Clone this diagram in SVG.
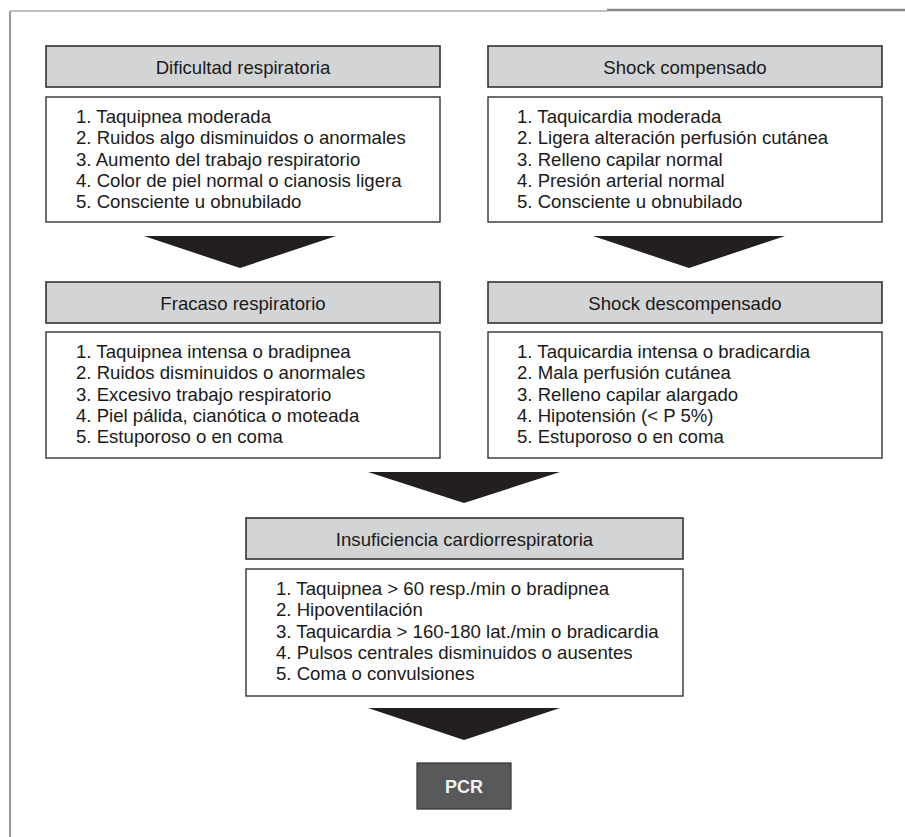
<svg xmlns="http://www.w3.org/2000/svg" width="905" height="837" viewBox="0 0 905 837">
<style>
.hdr{fill:#d3d4d5;stroke:#333;stroke-width:1.6}
.body{fill:#fff;stroke:#333;stroke-width:1.4}
.ht{font-family:"Liberation Sans",Arial,sans-serif;font-size:18.6px;fill:#1a1a1a;text-anchor:middle}
.bt{font-family:"Liberation Sans",Arial,sans-serif;font-size:18.6px;fill:#1a1a1a}
.arr{fill:#231f20}
</style>
<rect width="905" height="837" fill="#fff"/>
<g id="frame">
<line x1="10" y1="11" x2="10" y2="837" stroke="#999" stroke-width="2"/>
<line x1="10" y1="11" x2="607" y2="11" stroke="#aaa" stroke-width="1.5"/>
<line x1="607" y1="10" x2="905" y2="10" stroke="#888" stroke-width="2.5"/>
</g>
<g id="connectors">
<polygon class="arr" points="144,236 336,236 240,268"/>
<polygon class="arr" points="593,236 785,236 689,268"/>
<polygon class="arr" points="368,472 560,472 464,503"/>
<polygon class="arr" points="368,708 560,708 464,740"/>
</g>
<g id="dificultad">
<rect class="hdr" x="46" y="46" width="394" height="41"/>
<text class="ht" x="243" y="74">Dificultad respiratoria</text>
<rect class="body" x="46" y="97" width="394" height="125"/>
<text class="bt" x="76" y="123">1. Taquipnea moderada</text>
<text class="bt" x="76" y="144.3">2. Ruidos algo disminuidos o anormales</text>
<text class="bt" x="76" y="165.6">3. Aumento del trabajo respiratorio</text>
<text class="bt" x="76" y="186.9">4. Color de piel normal o cianosis ligera</text>
<text class="bt" x="76" y="208.2">5. Consciente u obnubilado</text>
</g>
<g id="shock-compensado">
<rect class="hdr" x="488" y="46" width="394" height="41"/>
<text class="ht" x="685" y="74">Shock compensado</text>
<rect class="body" x="488" y="97" width="394" height="125"/>
<text class="bt" x="517" y="123">1. Taquicardia moderada</text>
<text class="bt" x="517" y="144.3">2. Ligera alteración perfusión cutánea</text>
<text class="bt" x="517" y="165.6">3. Relleno capilar normal</text>
<text class="bt" x="517" y="186.9">4. Presión arterial normal</text>
<text class="bt" x="517" y="208.2">5. Consciente u obnubilado</text>
</g>
<g id="fracaso">
<rect class="hdr" x="46" y="282" width="394" height="41"/>
<text class="ht" x="243" y="310">Fracaso respiratorio</text>
<rect class="body" x="46" y="332" width="394" height="126"/>
<text class="bt" x="76" y="358">1. Taquipnea intensa o bradipnea</text>
<text class="bt" x="76" y="379.3">2. Ruidos disminuidos o anormales</text>
<text class="bt" x="76" y="400.6">3. Excesivo trabajo respiratorio</text>
<text class="bt" x="76" y="421.9">4. Piel pálida, cianótica o moteada</text>
<text class="bt" x="76" y="443.2">5. Estuporoso o en coma</text>
</g>
<g id="shock-descompensado">
<rect class="hdr" x="488" y="282" width="394" height="41"/>
<text class="ht" x="685" y="310">Shock descompensado</text>
<rect class="body" x="488" y="332" width="394" height="126"/>
<text class="bt" x="517" y="358">1. Taquicardia intensa o bradicardia</text>
<text class="bt" x="517" y="379.3">2. Mala perfusión cutánea</text>
<text class="bt" x="517" y="400.6">3. Relleno capilar alargado</text>
<text class="bt" x="517" y="421.9">4. Hipotensión (&lt; P 5%)</text>
<text class="bt" x="517" y="443.2">5. Estuporoso o en coma</text>
</g>
<g id="insuficiencia">
<rect class="hdr" x="246" y="518" width="437" height="41"/>
<text class="ht" x="464.5" y="545.5">Insuficiencia cardiorrespiratoria</text>
<rect class="body" x="246" y="569" width="437" height="127"/>
<text class="bt" x="276" y="595">1. Taquipnea &gt; 60 resp./min o bradipnea</text>
<text class="bt" x="276" y="616.3">2. Hipoventilación</text>
<text class="bt" x="276" y="637.6">3. Taquicardia &gt; 160-180 lat./min o bradicardia</text>
<text class="bt" x="276" y="658.9">4. Pulsos centrales disminuidos o ausentes</text>
<text class="bt" x="276" y="680.2">5. Coma o convulsiones</text>
</g>
<g id="pcr">
<rect x="417" y="763" width="94" height="46" fill="#58595b" stroke="#333" stroke-width="1.2"/>
<text x="464" y="793" font-family="Liberation Sans,Arial,sans-serif" font-size="18" font-weight="bold" fill="#f2f2f2" text-anchor="middle">PCR</text>
</g>
</svg>
